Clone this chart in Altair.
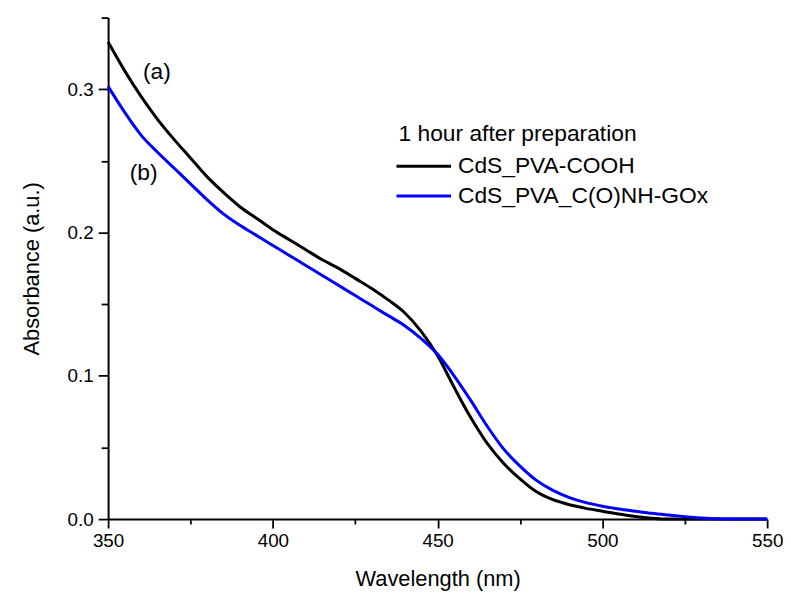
import altair as alt
import pandas as pd

wavelength = list(range(350, 555, 5))
abs_a = [0.333, 0.313, 0.295, 0.279, 0.265, 0.252, 0.239, 0.228, 0.218, 0.210,
         0.202, 0.195, 0.188, 0.181, 0.175, 0.168, 0.161, 0.153, 0.144, 0.131,
         0.114, 0.092, 0.071, 0.053, 0.039, 0.028, 0.019, 0.0135, 0.0100, 0.0075,
         0.0055, 0.0035, 0.0018, 0.0006, 0, 0, 0, 0, 0, 0, 0]
abs_b = [0.302, 0.284, 0.268, 0.256, 0.245, 0.234, 0.223, 0.213, 0.205, 0.198,
         0.191, 0.184, 0.177, 0.170, 0.163, 0.156, 0.149, 0.142, 0.135, 0.126,
         0.115, 0.100, 0.083, 0.065, 0.049, 0.037, 0.027, 0.020, 0.015, 0.0115,
         0.009, 0.007, 0.0055, 0.004, 0.0028, 0.0017, 0.0008, 0.0002, 0, 0, 0]
series_names = ["CdS_PVA-COOH", "CdS_PVA_C(O)NH-GOx"]
series_colors = ["#000000", "#0000ff"]
legend_title = "1 hour after preparation"

x_ticks = list(range(350, 551, 25))
y_ticks = [0, 0.05, 0.1, 0.15, 0.2, 0.25, 0.3, 0.35]

annot_text = ["(a)", "(b)"]
annot_x = [364.8, 360.8]
annot_y = [0.312, 0.2416]

FONT = "Liberation Sans"

rows = []
for name, vals in zip(series_names, [abs_a, abs_b]):
    for w, a in zip(wavelength, vals):
        rows.append({"wavelength": w, "absorbance": a, "series": name})
df = pd.DataFrame(rows)

x_enc = alt.X(
    "wavelength:Q",
    scale=alt.Scale(domain=[350, 550], nice=False, zero=False),
    axis=alt.Axis(
        values=x_ticks,
        labelExpr="datum.value % 50 === 0 ? datum.label : ''",
        title="Wavelength (nm)",
        grid=False,
        labelFlush=False,
        tickSize={"condition": {"test": "datum.value % 50 !== 0", "value": 5}, "value": 9},
        labelPadding=4,
        titlePadding=18,
    ),
)
y_enc = alt.Y(
    "absorbance:Q",
    scale=alt.Scale(domain=[0, 0.35], nice=False),
    axis=alt.Axis(
        values=y_ticks,
        format=".1f",
        labelExpr="round(datum.value * 20) % 2 === 0 ? datum.label : ''",
        title="Absorbance (a.u.)",
        grid=False,
        tickSize={"condition": {"test": "round(datum.value * 20) % 2 !== 0", "value": 7}, "value": 10},
        labelPadding=5,
        titlePadding=24,
    ),
)

lines = alt.Chart(df).mark_line(strokeWidth=3, interpolate="monotone").encode(
    x=x_enc,
    y=y_enc,
    color=alt.Color("series:N", scale=alt.Scale(domain=series_names, range=series_colors), legend=None),
    order=alt.Order("wavelength:Q"),
    detail="series:N",
)

annot_df = pd.DataFrame({"t": annot_text, "wavelength": annot_x, "absorbance": annot_y})
annots = alt.Chart(annot_df).mark_text(font=FONT, fontSize=23, color="black", baseline="middle").encode(
    x="wavelength:Q", y="absorbance:Q", text="t:N"
)

# manual legend (pixel positions inside the plot area)
leg_x0, leg_x1, leg_tx = 291, 346, 353
leg_title = alt.Chart(pd.DataFrame({"t": [legend_title]})).mark_text(
    font=FONT, fontSize=23, align="left", baseline="middle", color="black"
).encode(x=alt.value(leg_x0 + 2), y=alt.value(118), text="t:N")

leg_layers = [leg_title]
for i, (name, col) in enumerate(zip(series_names, series_colors)):
    yy = 150 + 30 * i
    leg_layers.append(
        alt.Chart(pd.DataFrame({"s": [name]})).mark_rule(color=col, strokeWidth=3).encode(
            x=alt.value(leg_x0), x2=alt.value(leg_x1), y=alt.value(yy)
        )
    )
    leg_layers.append(
        alt.Chart(pd.DataFrame({"s": [name]})).mark_text(
            font=FONT, fontSize=23, align="left", baseline="middle", color="black"
        ).encode(x=alt.value(leg_tx), y=alt.value(yy), text="s:N")
    )

chart = alt.layer(lines, annots, *leg_layers).properties(
    width=665,
    height=506,
    autosize=alt.AutoSizeParams(type="none"),
    padding={"left": 101, "top": 7, "right": 16, "bottom": 84},
).configure_view(stroke=None).configure_axis(
    labelFont=FONT,
    titleFont=FONT,
    labelFontSize=19,
    titleFontSize=22,
    titleFontWeight="normal",
    labelColor="black",
    titleColor="black",
    domainColor="black",
    tickColor="black",
    domainWidth=2,
    tickWidth=1.8,
)

chart.save("out.html", embed_options={"renderer": "svg", "actions": False})
